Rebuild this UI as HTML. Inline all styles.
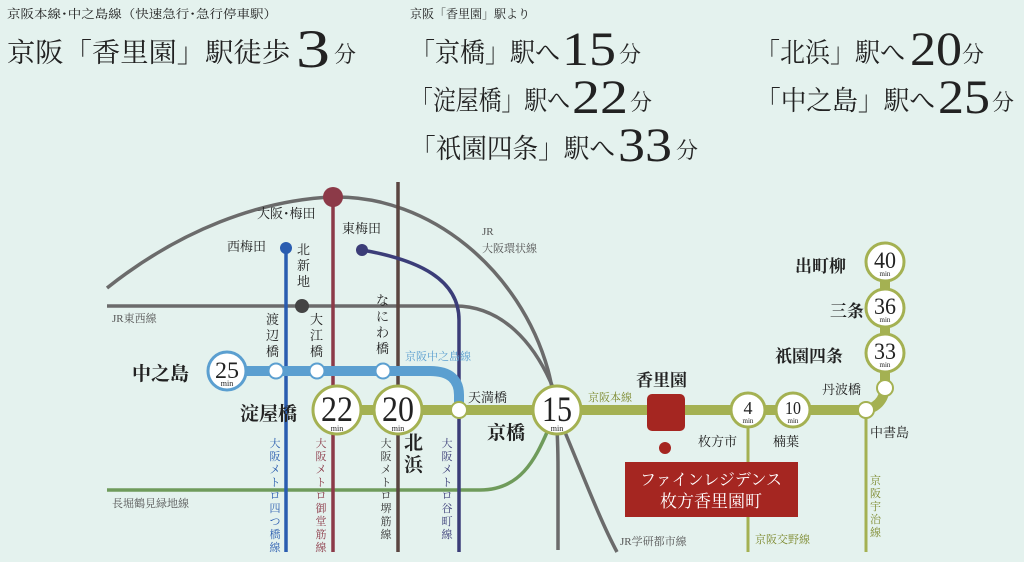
<!DOCTYPE html>
<html><head><meta charset="utf-8"><style>
html,body{margin:0;padding:0;background:#e4f2ee;}
svg{display:block;}
text{font-family:"Liberation Serif","Noto Serif CJK SC",serif;}
</style></head><body>
<svg width="1024" height="562" viewBox="0 0 1024 562" xmlns="http://www.w3.org/2000/svg">
<rect width="1024" height="562" fill="#e4f2ee"/>
<!-- header -->
<g fill="#222">
<text x="7" y="18" font-size="12" textLength="270" lengthAdjust="spacingAndGlyphs">京阪本線･中之島線（快速急行･急行停車駅）</text>
<text x="7" y="62" font-size="27" textLength="283" lengthAdjust="spacingAndGlyphs">京阪「香里園」駅徒歩</text>
<text x="296" y="67" font-size="54" textLength="34" lengthAdjust="spacingAndGlyphs">3</text>
<text x="334" y="62" font-size="22">分</text>
<text x="410" y="18" font-size="12" textLength="120" lengthAdjust="spacingAndGlyphs">京阪「香里園」駅より</text>
<text x="410" y="62" font-size="27" textLength="150" lengthAdjust="spacingAndGlyphs">「京橋」駅へ</text>
<text x="562" y="65" font-size="48" textLength="54" lengthAdjust="spacingAndGlyphs">15</text>
<text x="619" y="62" font-size="22">分</text>
<text x="410" y="110" font-size="27" textLength="160" lengthAdjust="spacingAndGlyphs">「淀屋橋」駅へ</text>
<text x="572" y="113" font-size="48" textLength="56" lengthAdjust="spacingAndGlyphs">22</text>
<text x="630" y="110" font-size="22">分</text>
<text x="410" y="158" font-size="27" textLength="205" lengthAdjust="spacingAndGlyphs">「祇園四条」駅へ</text>
<text x="618" y="161" font-size="48" textLength="54" lengthAdjust="spacingAndGlyphs">33</text>
<text x="676" y="158" font-size="22">分</text>
<text x="755" y="62" font-size="27" textLength="150" lengthAdjust="spacingAndGlyphs">「北浜」駅へ</text>
<text x="910" y="65" font-size="48" textLength="52" lengthAdjust="spacingAndGlyphs">20</text>
<text x="962" y="62" font-size="22">分</text>
<text x="755" y="110" font-size="27" textLength="180" lengthAdjust="spacingAndGlyphs">「中之島」駅へ</text>
<text x="938" y="113" font-size="48" textLength="52" lengthAdjust="spacingAndGlyphs">25</text>
<text x="992" y="110" font-size="22">分</text>
</g>
<!-- gray lines -->
<g fill="none" stroke="#6b6b6b" stroke-width="3.5">
<path d="M107,288 C180,230 260,200 333,197 C430,195 520,270 548,370 C556,400 558,430 558,470 L558,550"/>
<path d="M107,306 L455,306 C500,306 535,340 556,395"/>
<path d="M562,425 C585,480 600,520 617,552"/>
</g>
<path d="M107,490 L480,490 C520,490 535,460 548,430" fill="none" stroke="#6f9b5b" stroke-width="3.5"/>
<line x1="286" y1="248" x2="286" y2="552" stroke="#2a5db0" stroke-width="3.5"/>
<line x1="333" y1="197" x2="333" y2="552" stroke="#8c3a48" stroke-width="3.5"/>
<line x1="398" y1="182" x2="398" y2="552" stroke="#5a4540" stroke-width="3.5"/>
<path d="M362,250 C420,260 459,280 459,320 L459,552" fill="none" stroke="#3b3d78" stroke-width="3.5"/>
<circle cx="286" cy="248" r="6" fill="#2a5db0"/>
<circle cx="333" cy="197" r="10" fill="#8c3a48"/>
<circle cx="362" cy="250" r="6" fill="#3b3d78"/>
<circle cx="302" cy="306" r="7" fill="#444"/>
<line x1="748" y1="410" x2="748" y2="552" stroke="#a4b152" stroke-width="3"/>
<line x1="866" y1="410" x2="866" y2="552" stroke="#a4b152" stroke-width="3"/>
<path d="M227,371 L430,371 C450,371 459,380 459,395 L459,410" fill="none" stroke="#5b9fd0" stroke-width="10"/>
<path d="M337,410 L860,410 C876,410 885,400 885,385 L885,262" fill="none" stroke="#a4b152" stroke-width="10"/>
<g fill="#fff" stroke="#5b9fd0" stroke-width="2">
<circle cx="276" cy="371" r="7.5"/><circle cx="317" cy="371" r="7.5"/><circle cx="383" cy="371" r="7.5"/>
<circle cx="227" cy="371" r="19" stroke-width="3"/>
</g>
<g fill="#fff" stroke="#a4b152" stroke-width="3">
<circle cx="459" cy="410" r="8" stroke-width="2"/>
<circle cx="885" cy="388" r="8" stroke-width="2"/>
<circle cx="866" cy="410" r="8" stroke-width="2"/>
<circle cx="337" cy="410" r="24"/><circle cx="398" cy="410" r="24"/><circle cx="557" cy="410" r="24"/>
<circle cx="748" cy="410" r="17"/><circle cx="793" cy="410" r="17"/>
<circle cx="885" cy="262" r="19"/><circle cx="885" cy="308" r="19"/><circle cx="885" cy="353" r="19"/>
</g>
<g fill="#222" text-anchor="middle">
<text x="227" y="378" font-size="23" textLength="24" lengthAdjust="spacingAndGlyphs">25</text><text x="227" y="386" font-size="8">min</text>
<text x="337" y="421" font-size="36" textLength="32" lengthAdjust="spacingAndGlyphs">22</text><text x="337" y="431" font-size="8">min</text>
<text x="398" y="421" font-size="36" textLength="32" lengthAdjust="spacingAndGlyphs">20</text><text x="398" y="431" font-size="8">min</text>
<text x="557" y="421" font-size="36" textLength="30" lengthAdjust="spacingAndGlyphs">15</text><text x="557" y="431" font-size="8">min</text>
<text x="748" y="414" font-size="18">4</text><text x="748" y="423" font-size="7">min</text>
<text x="793" y="414" font-size="18" textLength="16" lengthAdjust="spacingAndGlyphs">10</text><text x="793" y="423" font-size="7">min</text>
<text x="885" y="268" font-size="23" textLength="22" lengthAdjust="spacingAndGlyphs">40</text><text x="885" y="276" font-size="7">min</text>
<text x="885" y="314" font-size="23" textLength="22" lengthAdjust="spacingAndGlyphs">36</text><text x="885" y="322" font-size="7">min</text>
<text x="885" y="359" font-size="23" textLength="22" lengthAdjust="spacingAndGlyphs">33</text><text x="885" y="367" font-size="7">min</text>
</g>
<rect x="647" y="394" width="38" height="37" rx="5" fill="#a52621"/>
<circle cx="665" cy="448" r="6" fill="#a52621"/>
<rect x="625" y="462" width="173" height="55" fill="#a52621"/>
<g fill="#fff" font-size="16" text-anchor="middle">
<text x="711" y="485">ファインレジデンス</text>
<text x="711" y="507" font-size="17">枚方香里園町</text>
</g>
<g fill="#222" font-weight="bold">
<text x="132" y="380" font-size="19">中之島</text>
<text x="240" y="420" font-size="19">淀屋橋</text>
<text x="487" y="439" font-size="19">京橋</text>
<text x="636" y="386" font-size="17">香里園</text>
<text x="795" y="272" font-size="17">出町柳</text>
<text x="830" y="317" font-size="17">三条</text>
<text x="775" y="362" font-size="17">祇園四条</text>
<text x="404" y="449" font-size="19">北</text><text x="404" y="471" font-size="19">浜</text>
</g>
<g fill="#222" font-size="13">
<text x="257" y="218">大阪･梅田</text>
<text x="342" y="233">東梅田</text>
<text x="227" y="251">西梅田</text>
<text x="297" y="254">北</text><text x="297" y="270">新</text><text x="297" y="286">地</text>
<text x="266" y="324">渡</text><text x="266" y="340">辺</text><text x="266" y="356">橋</text>
<text x="310" y="324">大</text><text x="310" y="340">江</text><text x="310" y="356">橋</text>
<text x="376" y="305">な</text><text x="376" y="321">に</text><text x="376" y="337">わ</text><text x="376" y="353">橋</text>
<text x="468" y="402">天満橋</text>
<text x="698" y="446">枚方市</text>
<text x="773" y="446">楠葉</text>
<text x="822" y="394">丹波橋</text>
<text x="870" y="437">中書島</text>
</g>
<g fill="#555" font-size="11">
<text x="482" y="235">JR</text>
<text x="482" y="252">大阪環状線</text>
<text x="112" y="322">JR東西線</text>
<text x="112" y="507">長堀鶴見緑地線</text>
<text x="620" y="545">JR学研都市線</text>
</g>
<g fill="#7d8a2e" font-size="11">
<text x="588" y="401">京阪本線</text>
<text x="755" y="543">京阪交野線</text>
<text x="870" y="484">京</text><text x="870" y="497">阪</text><text x="870" y="510">宇</text><text x="870" y="523">治</text><text x="870" y="536">線</text>
</g>
<text x="405" y="360" fill="#5b9fd0" font-size="11">京阪中之島線</text>
<g font-size="11" text-anchor="middle">
<g fill="#2a5db0"><text x="275" y="447">大</text><text x="275" y="460">阪</text><text x="275" y="473">メ</text><text x="275" y="486">ト</text><text x="275" y="499">ロ</text><text x="275" y="512">四</text><text x="275" y="525">つ</text><text x="275" y="538">橋</text><text x="275" y="551">線</text></g>
<g fill="#8c3a48"><text x="321" y="447">大</text><text x="321" y="460">阪</text><text x="321" y="473">メ</text><text x="321" y="486">ト</text><text x="321" y="499">ロ</text><text x="321" y="512">御</text><text x="321" y="525">堂</text><text x="321" y="538">筋</text><text x="321" y="551">線</text></g>
<g fill="#333"><text x="386" y="447">大</text><text x="386" y="460">阪</text><text x="386" y="473">メ</text><text x="386" y="486">ト</text><text x="386" y="499">ロ</text><text x="386" y="512">堺</text><text x="386" y="525">筋</text><text x="386" y="538">線</text></g>
<g fill="#3b3d78"><text x="447" y="447">大</text><text x="447" y="460">阪</text><text x="447" y="473">メ</text><text x="447" y="486">ト</text><text x="447" y="499">ロ</text><text x="447" y="512">谷</text><text x="447" y="525">町</text><text x="447" y="538">線</text></g>
</g>
</svg>
</body></html>
